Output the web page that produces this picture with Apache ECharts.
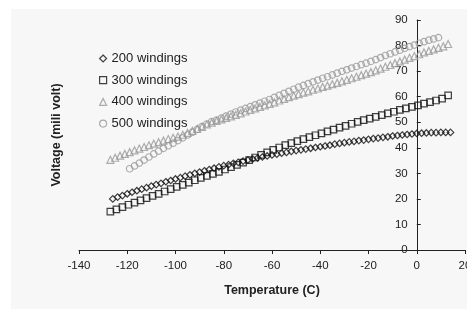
<!DOCTYPE html>
<html>
<head>
<meta charset="utf-8">
<script src="https://cdn.jsdelivr.net/npm/echarts@6/dist/echarts.min.js"></script>
<style>
html,body{margin:0;padding:0;background:#fff;}
#c{width:467px;height:309px;}
</style>
</head>
<body>
<div id="c"></div>
<script>
var seriesNames = ['200 windings', '300 windings', '400 windings', '500 windings'];
var xTicks = [-140, -120, -100, -80, -60, -40, -20, 0, 20];
var yTicks = [0, 10, 20, 30, 40, 50, 60, 70, 80, 90];

var temps200 = [-126,-124,-122,-120,-118,-116,-114,-112,-110,-108,-106,-104,-102,-100,-98,-96,-94,-92,-90,-88,-86,-84,-82,-80,-78,-76,-74,-72,-70,-68,-66,-64,-62,-60,-58,-56,-54,-52,-50,-48,-46,-44,-42,-40,-38,-36,-34,-32,-30,-28,-26,-24,-22,-20,-18,-16,-14,-12,-10,-8,-6,-4,-2,0,2,4,6,8,10,12,14];
var volts200 = [20.0,20.7,21.3,22.0,22.6,23.2,23.8,24.4,25.0,25.6,26.1,26.7,27.2,27.8,28.3,28.9,29.4,30.0,30.5,31.0,31.5,32.0,32.5,33.0,33.4,33.9,34.3,34.8,35.2,35.6,36.0,36.4,36.8,37.2,37.5,37.9,38.2,38.6,38.9,39.2,39.5,39.8,40.1,40.4,40.7,41.0,41.4,41.7,42.0,42.3,42.5,42.8,43.0,43.3,43.6,43.8,44.1,44.3,44.6,44.8,45.0,45.2,45.4,45.6,45.7,45.8,45.9,45.9,46.0,46.0,46.0];

var temps300 = [-127,-124.5,-122,-119.5,-117,-114.5,-112,-109.5,-107,-104.5,-102,-99.5,-97,-94.5,-92,-89.5,-87,-84.5,-82,-79.5,-77,-74.5,-72,-69.5,-67,-64.5,-62,-59.5,-57,-54.5,-52,-49.5,-47,-44.5,-42,-39.5,-37,-34.5,-32,-29.5,-27,-24.5,-22,-19.5,-17,-14.5,-12,-9.5,-7,-4.5,-2,0.5,3,5.5,8,10.5,13];
var volts300 = [15.0,15.9,16.8,17.7,18.5,19.4,20.3,21.2,22.0,22.9,23.8,24.7,25.5,26.4,27.3,28.2,29.0,29.8,30.6,31.5,32.4,33.3,34.2,35.2,36.2,37.2,38.2,39.2,40.1,41.0,41.8,42.6,43.4,44.2,44.9,45.6,46.4,47.1,47.9,48.6,49.4,50.1,50.8,51.4,52.1,52.8,53.5,54.1,54.8,55.4,56.0,56.6,57.3,57.9,58.5,59.2,60.5];

var temps400 = [-127,-125,-123,-121,-119,-117,-115,-113,-111,-109,-107,-105,-103,-101,-99,-97,-95,-93,-91,-89,-87,-85,-83,-81,-79,-77,-75,-73,-71,-69,-67,-65,-63,-61,-59,-57,-55,-53,-51,-49,-47,-45,-43,-41,-39,-37,-35,-33,-31,-29,-27,-25,-23,-21,-19,-17,-15,-13,-11,-9,-7,-5,-3,-1,1,3,5,7,9,11,13];
var volts400 = [35.3,36.1,36.9,37.6,38.3,39.0,39.7,40.3,41.0,41.6,42.2,42.8,43.4,43.9,44.4,45.1,45.8,46.6,47.4,48.2,49.1,49.8,50.5,51.1,51.7,52.3,52.9,53.5,54.2,54.8,55.4,56.0,56.6,57.2,57.8,58.5,59.1,59.8,60.4,61.0,61.6,62.1,62.7,63.2,63.8,64.3,64.9,65.4,66.0,66.6,67.2,67.8,68.4,69.0,69.6,70.3,71.0,71.7,72.4,73.1,73.8,74.5,75.2,75.9,76.6,77.3,77.9,78.5,79.1,79.7,80.6];

var temps500 = [-119,-117,-115,-113,-111,-109,-107,-105,-103,-101,-99,-97,-95,-93,-91,-89,-87,-85,-83,-81,-79,-77,-75,-73,-71,-69,-67,-65,-63,-61,-59,-57,-55,-53,-51,-49,-47,-45,-43,-41,-39,-37,-35,-33,-31,-29,-27,-25,-23,-21,-19,-17,-15,-13,-11,-9,-7,-5,-3,-1,1,3,5,7,9];
var volts500 = [31.8,32.9,34.0,35.2,36.4,37.6,38.7,39.8,40.8,41.8,42.8,43.9,45.0,46.1,47.2,48.3,49.3,50.2,50.8,51.6,52.4,53.2,54.0,54.7,55.4,56.1,56.8,57.5,58.2,58.9,59.7,60.5,61.3,62.1,62.9,63.7,64.4,65.1,65.8,66.5,67.2,67.8,68.5,69.2,69.9,70.5,71.2,71.8,72.5,73.1,73.8,74.5,75.3,76.1,76.8,77.5,78.2,78.9,79.6,80.2,80.9,81.5,82.1,82.6,83.1];

function pairs(xs, ys) {
  var out = [];
  for (var i = 0; i < xs.length; i++) out.push([xs[i], ys[i]]);
  return out;
}

var chart = echarts.init(document.getElementById('c'), null, {renderer: 'canvas'});
var txt = '#222';
var font = 'Liberation Sans, Arial, sans-serif';

// grid geometry: x spans -140..20 across 386px
var gridLeft = 79, gridRight = 2;
var axisShift = (0 - xTicks[0]) / (xTicks[xTicks.length - 1] - xTicks[0]) * (467 - gridLeft - gridRight);

function mk(name, data, symbol, size, color) {
  return {
    name: name,
    type: 'scatter',
    data: data,
    symbol: symbol,
    symbolSize: size,
    itemStyle: {color: 'rgba(0,0,0,0)', borderColor: color, borderWidth: 1.2},
    emphasis: {disabled: true},
    z: 3
  };
}

chart.setOption({
  animation: false,
  backgroundColor: '#fff',
  graphic: {
    elements: [{
      type: 'rect', z: -100, silent: true,
      shape: {x: 11, y: 9, width: 470, height: 300},
      style: {fill: '#f7f7f7'}
    }]
  },
  grid: {left: gridLeft, right: gridRight, top: 20, bottom: 59, containLabel: false, outerBoundsMode: 'none'},
  legend: {
    orient: 'vertical',
    left: 94, top: 47,
    itemWidth: 7, itemHeight: 7, itemGap: 8.7,
    itemStyle: {color: 'rgba(0,0,0,0)', borderWidth: 1.2},
    textStyle: {fontSize: 13, color: txt, fontFamily: font},
    data: seriesNames
  },
  xAxis: {
    type: 'value',
    min: xTicks[0], max: xTicks[xTicks.length - 1], interval: 20,
    name: 'Temperature (C)', nameLocation: 'middle', nameGap: 34,
    nameTextStyle: {fontSize: 12.5, fontWeight: 'bold', color: txt, fontFamily: font},
    axisLine: {onZero: false, lineStyle: {color: '#222', width: 1}},
    axisTick: {show: true, length: 4, lineStyle: {color: '#222'}},
    axisLabel: {fontSize: 11.5, color: txt, fontFamily: font, margin: 10, showMaxLabel: true, showMinLabel: true, hideOverlap: false},
    splitLine: {show: false}
  },
  yAxis: {
    type: 'value',
    position: 'left',
    offset: -axisShift,
    min: yTicks[0], max: yTicks[yTicks.length - 1], interval: 10,
    name: 'Voltage (mili volt)', nameLocation: 'middle', nameGap: 354, nameRotate: 90,
    nameTextStyle: {fontSize: 12.5, fontWeight: 'bold', color: txt, fontFamily: font},
    axisLine: {onZero: false, lineStyle: {color: '#222', width: 1}},
    axisTick: {show: true, inside: true, length: 4, lineStyle: {color: '#222'}},
    axisLabel: {fontSize: 11.5, color: txt, fontFamily: font, margin: 9, hideOverlap: false},
    splitLine: {show: false}
  },
  series: [
    mk(seriesNames[0], pairs(temps200, volts200), 'diamond', 6.5, '#111'),
    mk(seriesNames[1], pairs(temps300, volts300), 'rect', 6.5, '#111'),
    mk(seriesNames[2], pairs(temps400, volts400), 'triangle', 7, '#999'),
    mk(seriesNames[3], pairs(temps500, volts500), 'circle', 6.5, '#999')
  ]
});
</script>
</body>
</html>
